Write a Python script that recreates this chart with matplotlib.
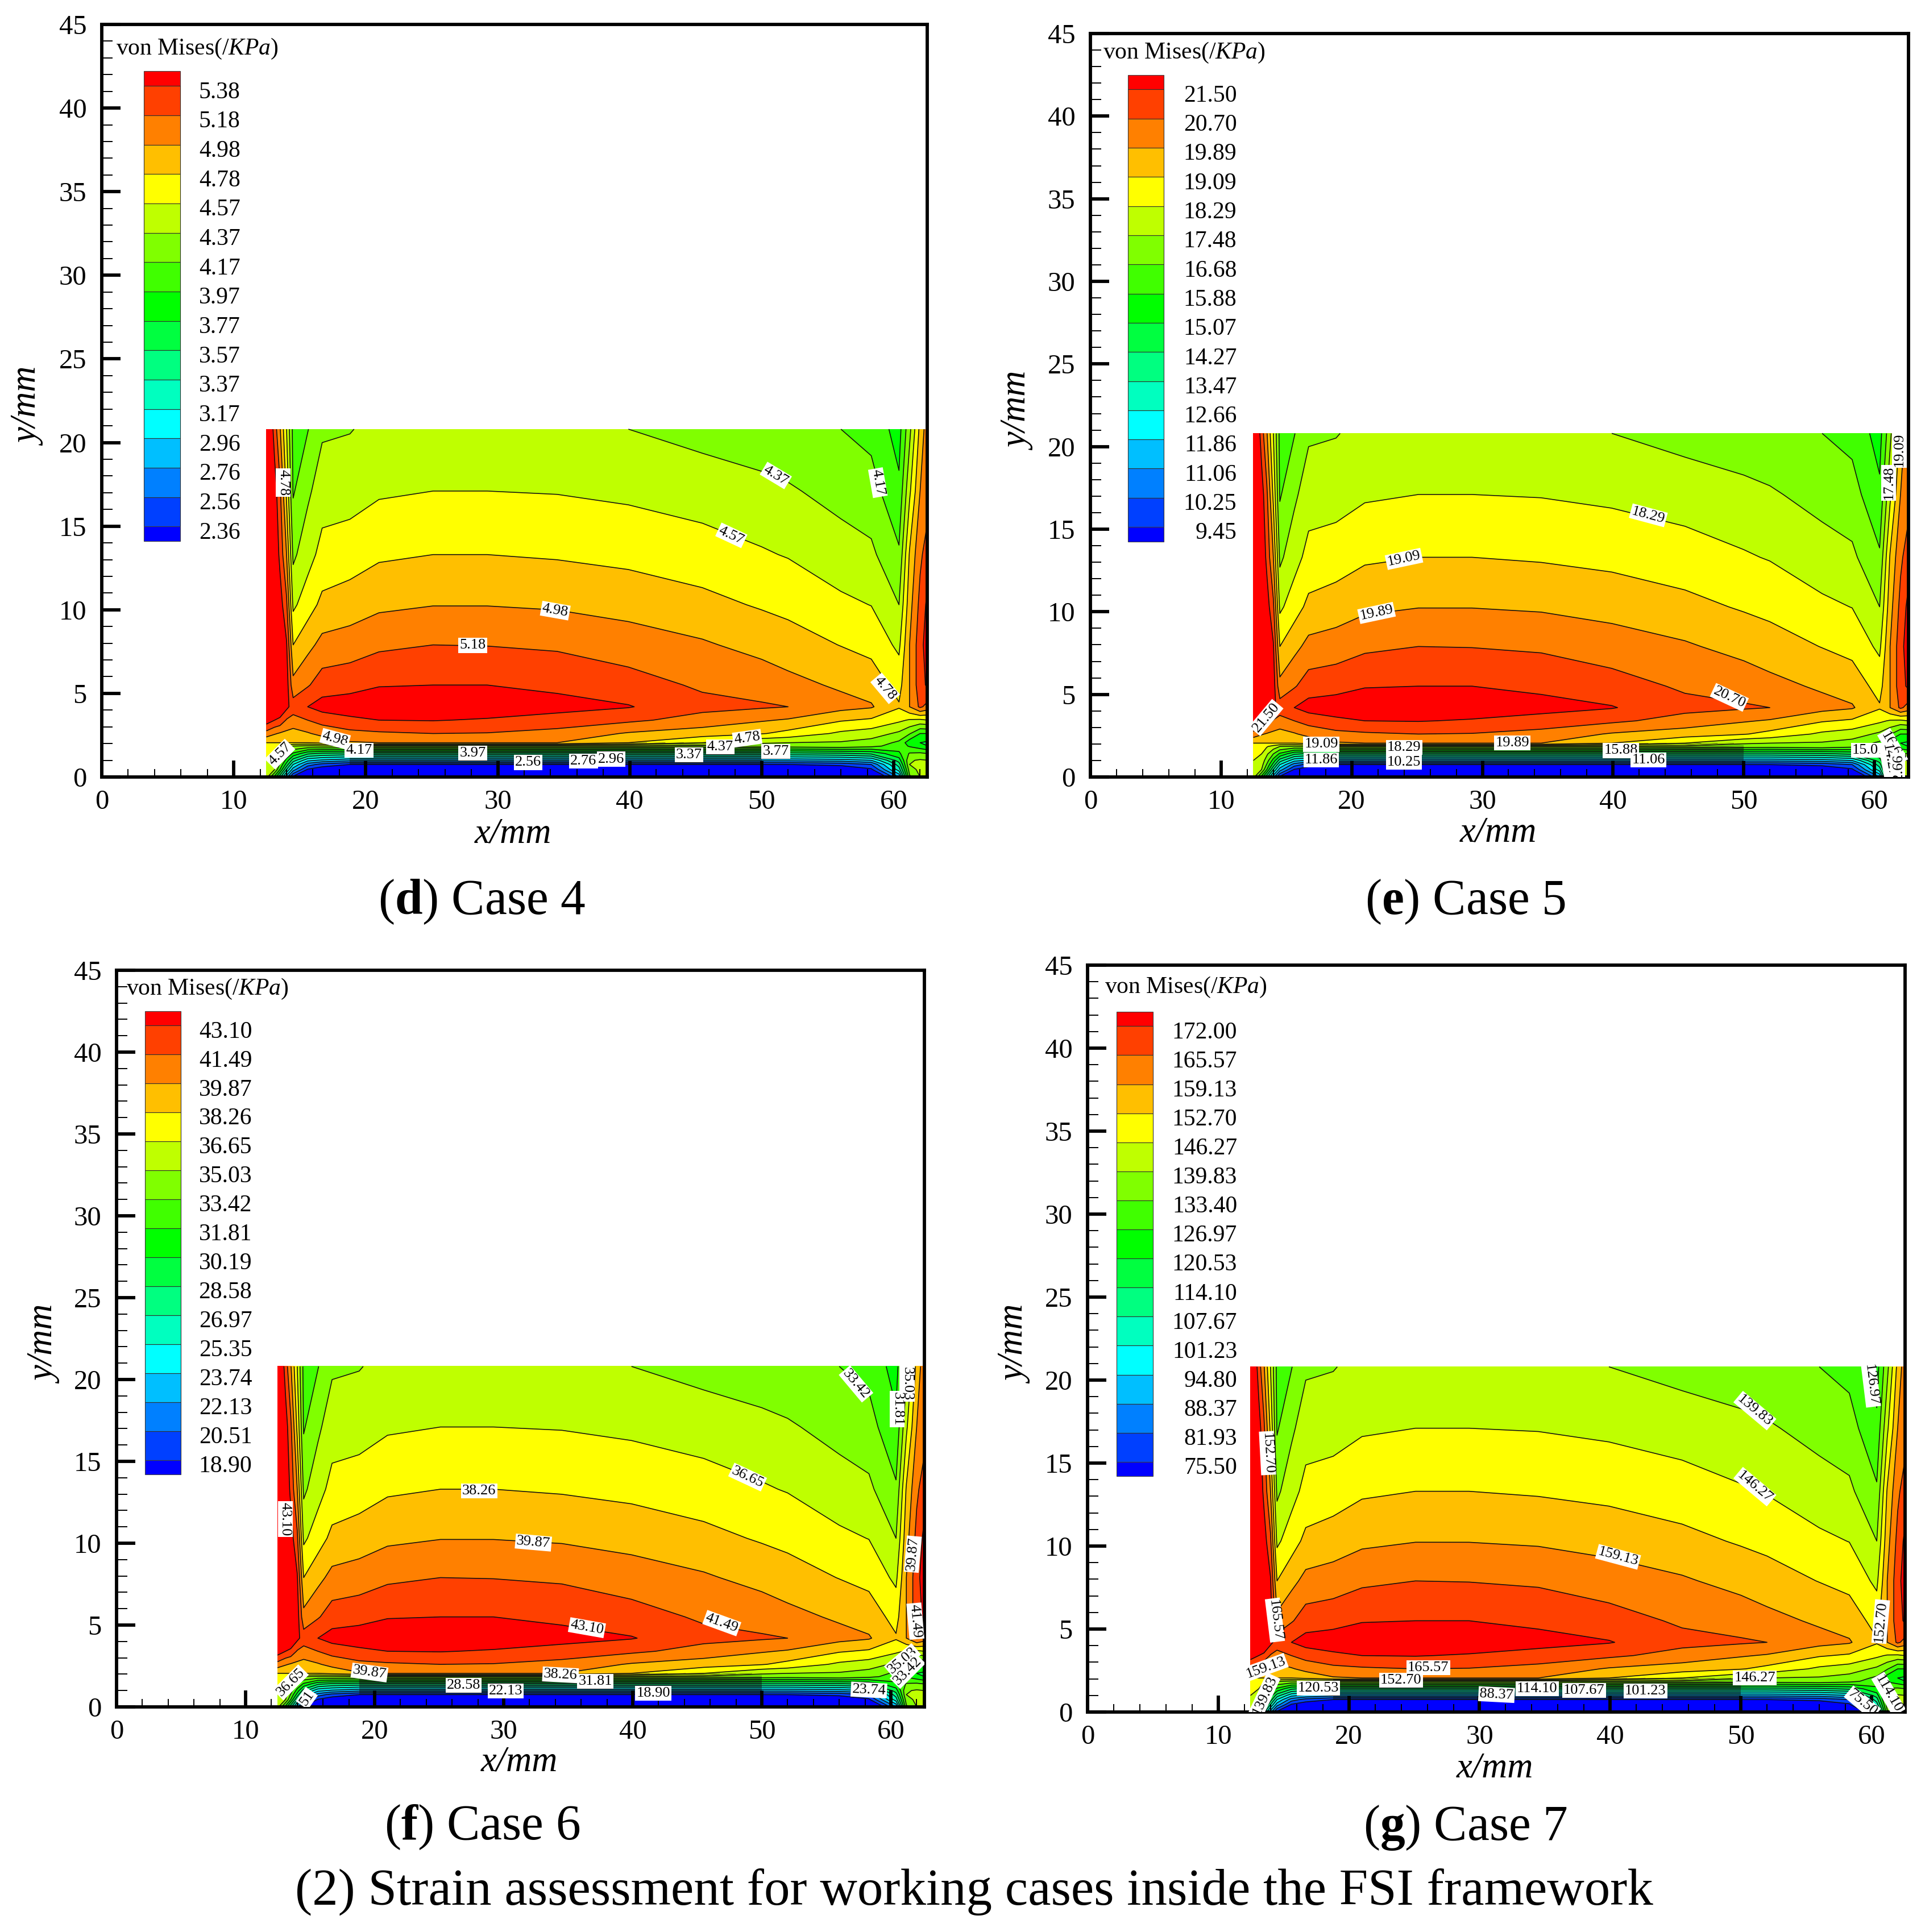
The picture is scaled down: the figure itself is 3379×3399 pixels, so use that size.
import numpy as np
from matplotlib import pyplot as plt
from matplotlib.patches import Rectangle
from matplotlib.ticker import MultipleLocator

plt.rcParams['font.family'] = ['Liberation Serif', 'DejaVu Serif']
plt.rcParams['mathtext.fontset'] = 'custom'
plt.rcParams['mathtext.rm'] = 'Liberation Serif'
plt.rcParams['mathtext.it'] = 'Liberation Serif:italic'
plt.rcParams['mathtext.bf'] = 'Liberation Serif:bold'

#--------------------------------
# DATA
#--------------------------------

# mesh nodes of the stress field, mm
x_nodes = [12.47, 13.1, 13.5, 14.0, 14.5, 15.6, 16.7, 18.8, 21, 25.1, 29.2, 34.5, 39.9, 45.5, 50, 52, 56, 58.3, 60.4, 61.2, 62, 62.6]
y_nodes = [0, 0.45, 0.75, 1, 1.4, 1.85, 2.05, 2.6, 3.4, 4.2, 5.5, 7.9, 10.3, 13.3, 17.1, 20.8]

# field, in units of contour level number (0 = lowest label, 15 = highest)
field = [
    [10.4, 7.6, 5.3, 2.4, -0.3, -1.5, -2, -2.8, -3, -3, -3, -3, -3, -3, -3, -3, -3, -2.5, 2, 8.8, 10, 10.2],
    [10.6, 10, 8, 5, 2.5, -0.1, -0.7, -1.5, -1.5, -1.5, -1.5, -1.5, -1.5, -1.5, -1.5, -1.5, -1, -0.2, 4.5, 9.5, 10.3, 10.3],
    [10.8, 10.4, 8.9, 6.6, 4, 1.5, 0.6, 0, 0, 0, 0, 0, 0, 0, 0, 0, 0.3, 1, 5.5, 10, 10.2, 10.2],
    [11, 10.6, 9.5, 7.6, 5.5, 3.3, 2.8, 2.3, 2.3, 2.3, 2.3, 2.3, 2.3, 2.3, 2.3, 2.3, 2.5, 3, 6.5, 9.9, 10.1, 10],
    [11.4, 11, 10.2, 9, 7.8, 6.2, 5.8, 5.6, 5.6, 5.6, 5.6, 5.6, 5.6, 5.6, 5.6, 5.6, 5.8, 6.2, 7.8, 9.1, 9.2, 9],
    [11.8, 11.5, 11.1, 10.6, 10, 9.8, 10, 10, 10, 10, 10, 10, 10, 9.8, 9.6, 9.5, 9.7, 9.3, 8.5, 7.9, 7.4, 7],
    [12, 12, 12, 12, 12, 12, 12.3, 12.9, 13, 13, 13, 13, 12, 11, 10.1, 10, 9.9, 9.6, 8.8, 7.4, 7, 6.8],
    [13.6, 13.1, 12.9, 12.75, 12.6, 12.9, 13.3, 13.7, 13.85, 14, 13.95, 13.65, 12.9, 12.5, 12.07, 11.7, 10.8, 10.5, 9.8, 9.1, 8, 8],
    [15.6, 15, 14.75, 13.9, 13.65, 14, 14.4, 14.8, 15, 15.05, 14.9, 14.6, 14.2, 13.6, 13.1, 12.9, 12.1, 11.85, 11.2, 10.9, 10.8, 11],
    [16.5, 16.5, 16, 15.3, 14.5, 15, 15.4, 15.5, 15.55, 15.75, 15.65, 15.35, 15.06, 14.3, 14.12, 14, 13.35, 13.1, 12.1, 13, 14.2, 13.6],
    [17, 16.7, 16.5, 15.5, 13.3, 13.9, 14.5, 14.67, 14.95, 15, 15, 14.78, 14.43, 13.85, 13.57, 13.3, 12.85, 12.55, 11.65, 13, 14.6, 15.2],
    [17, 17, 16, 15.1, 12, 12.7, 13.3, 13.46, 13.8, 14, 13.97, 13.85, 13.47, 13.12, 12.68, 12.45, 11.97, 11.7, 10.78, 13, 14.6, 15.6],
    [17, 16.5, 15.5, 14.2, 10.8, 11.55, 12.25, 12.5, 12.8, 12.97, 12.97, 12.87, 12.66, 12.29, 11.9, 11.73, 11.2, 10.98, 10, 12.6, 14.3, 15.3],
    [17, 15.9, 14.75, 13, 9.8, 10.6, 11.33, 11.5, 11.85, 12, 12, 11.9, 11.72, 11.44, 11.1, 10.94, 10.45, 10.2, 9.14, 12.1, 13.8, 14.5],
    [17, 15.5, 14.2, 11.8, 8.9, 9.8, 10.54, 10.6, 10.87, 11, 11, 10.95, 10.8, 10.55, 10.28, 10.12, 9.65, 9.4, 8.2, 10.8, 13, 13.6],
    [17, 14.5, 13.1, 11, 8.7, 8.95, 9.85, 9.95, 10.3, 10.55, 10.55, 10.4, 10, 9.65, 9.4, 9.28, 9, 8.7, 7.6, 9.7, 12.3, 13.7],
]

band_colors = ['#0000ff', '#0040ff', '#0080ff', '#00bfff', '#00ffff', '#00ffbf', '#00ff80', '#00ff40', '#00ff00',
               '#40ff00', '#80ff00', '#bfff00', '#ffff00', '#ffbf00', '#ff8000', '#ff4000', '#ff0000']

# legend values, top to bottom
levels_d = ['5.38', '5.18', '4.98', '4.78', '4.57', '4.37', '4.17', '3.97', '3.77', '3.57', '3.37', '3.17', '2.96', '2.76', '2.56', '2.36']
levels_e = ['21.50', '20.70', '19.89', '19.09', '18.29', '17.48', '16.68', '15.88', '15.07', '14.27', '13.47', '12.66', '11.86', '11.06', '10.25', '9.45']
levels_f = ['43.10', '41.49', '39.87', '38.26', '36.65', '35.03', '33.42', '31.81', '30.19', '28.58', '26.97', '25.35', '23.74', '22.13', '20.51', '18.90']
levels_g = ['172.00', '165.57', '159.13', '152.70', '146.27', '139.83', '133.40', '126.97', '120.53', '114.10', '107.67', '101.23', '94.80', '88.37', '81.93', '75.50']

# contour labels: text, x, y, rotation
labels_d = [('4.78', 13.75, 17.6, -90), ('4.37', 51.07, 18.03, -31), ('4.17', 58.8, 17.6, -80), ('4.57', 47.7, 14.45, -25),
            ('4.98', 34.36, 9.95, -10), ('5.18', 28.1, 7.87, 0), ('4.78', 59.36, 5.3, -50), ('4.98', 17.68, 2.28, -15),
            ('4.57', 13.5, 1.37, 45), ('4.17', 19.5, 1.59, 0), ('3.97', 28.1, 1.42, 0), ('2.56', 32.3, 0.87, 0),
            ('2.76', 36.5, 0.95, 0), ('2.96', 38.6, 1.07, 0), ('3.37', 44.5, 1.33, 0), ('4.37', 46.86, 1.8, 0),
            ('4.78', 48.9, 2.32, 8), ('3.77', 51.07, 1.54, 0)]
labels_e = [('21.50', 13.45, 3.6, 50), ('18.29', 42.7, 15.84, -15), ('19.09', 24, 13.2, 12), ('19.89', 21.9, 9.93, 12),
            ('20.70', 48.9, 4.82, -25), ('19.09', 17.67, 1.98, 0), ('18.29', 24, 1.8, 0), ('19.89', 32.3, 2.07, 0),
            ('15.88', 40.6, 1.6, 0), ('15.07', 59.6, 1.63, 0), ('11.86', 17.67, 1.02, 0), ('10.25', 24, 0.9, 0),
            ('11.06', 42.7, 1.02, 0), ('17.48', 61.1, 17.8, 90), ('19.09', 61.9, 19.8, 90), ('16.68', 61.4, 1.8, -60),
            ('14.27', 61.1, 1.0, -80), ('12.66', 61.8, 0.4, 90)]
labels_f = [('43.10', 13.08, 11.47, -90), ('33.42', 57.3, 19.73, -50), ('35.03', 61.26, 19.73, -90), ('31.81', 60.5, 18.2, -90),
            ('36.65', 48.9, 14.04, -25), ('38.26', 28.1, 13.2, 0), ('39.87', 32.3, 10.04, -5), ('39.87', 61.7, 9.33, 85),
            ('43.10', 36.45, 4.84, -10), ('41.49', 46.9, 5.12, -20), ('41.49', 61.9, 5.24, -85), ('39.87', 19.6, 2.1, -8),
            ('38.26', 34.4, 1.96, -3), ('31.81', 37.1, 1.56, 0), ('28.58', 26.9, 1.33, 0), ('22.13', 30.16, 0.98, 0),
            ('18.90', 41.6, 0.84, 0), ('23.74', 58.3, 1.03, -3), ('36.65', 13.5, 1.5, 45), ('35.03', 60.9, 2.84, 40),
            ('33.42', 61.3, 2.2, 45), ('51', 14.74, 0.53, 55)]
labels_g = [('152.70', 13.77, 15.6, -87), ('165.57', 14.34, 5.54, -83), ('139.83', 51.07, 18.16, -40), ('146.27', 51.07, 13.58, -40),
            ('159.13', 40.6, 9.35, -15), ('126.97', 59.95, 19.7, -83), ('152.70', 60.7, 5.45, 85), ('159.13', 13.63, 2.69, 20),
            ('165.57', 26.07, 2.66, 0), ('152.70', 23.98, 1.92, 0), ('146.27', 51.07, 2.05, 0), ('139.83', 13.54, 1.0, 65),
            ('120.53', 17.67, 1.43, 0), ('114.10', 34.4, 1.4, 0), ('107.67', 38, 1.31, 0), ('101.23', 42.7, 1.26, 0),
            ('88.37', 31.3, 1.05, -3), ('75.50', 59.3, 0.56, -40), ('114.10', 61.3, 1.08, -60)]

#--------------------------------
# PLOT
#--------------------------------

W, H = 3380, 3399
fig = plt.figure(figsize=(W/100, H/100), dpi=100)

# frame of each panel in pixels: x=0, x=60, right edge, y=0, top edge
# legend box in data units: left, right, bottom, top, text right edge; title x, title y
panels = [
    (levels_d, labels_d, (179, 1572, 1631, 1367, 43), (3.2, 5.96, 14.1, 42.2, 10.5), (1.07, 43.55)),
    (levels_e, labels_e, (1918, 3297, 3357, 1367, 59), (2.87, 5.61, 14.25, 42.5, 11.2), (0.96, 43.84)),
    (levels_f, labels_f, (205, 1567, 1626, 3003, 1707), (2.2, 4.98, 14.2, 42.5, 10.5), (0.75, 43.85)),
    (levels_g, labels_g, (1913, 3292, 3351, 3012, 1698), (2.2, 5.0, 14.2, 42.2, 11.45), (1.3, 43.66)),
]

xa = np.array(x_nodes)
ya = np.array(y_nodes)
za = np.array(field)

for levels, labels, frame, box, title in panels:
    x0, x60, xr, y0, yt = frame
    ax = fig.add_axes([x0/W, 1-y0/H, (xr-x0)/W, (y0-yt)/H])
    xmax = 60*(xr-x0)/(x60-x0)

    # filled bands and the lines between them
    edges = [-100] + list(range(16)) + [100]
    ax.contourf(xa, ya, za, levels=edges, colors=band_colors, antialiased=False, zorder=1)
    ax.contour(xa, ya, za, levels=list(range(16)), colors='#101010', linewidths=1.15, zorder=2)

    # the layer just over the blue strip is so tightly packed with lines that it goes dark
    ax.contour(xa[7:15], ya[:7], za[:7, 7:15], levels=np.arange(0, 12, 0.25), colors='#101010', linewidths=0.32, zorder=2)

    for txt, lx, ly, rot in labels:
        ax.text(lx, ly, txt, fontsize=19, rotation=rot, ha='center', va='center', zorder=3, clip_on=True,
                rotation_mode='anchor', bbox=dict(facecolor='white', edgecolor='none', pad=1.5))

    ax.set_xlim(0, xmax)
    ax.set_ylim(0, 45)
    ax.xaxis.set_major_locator(MultipleLocator(10))
    ax.xaxis.set_minor_locator(MultipleLocator(2))
    ax.yaxis.set_major_locator(MultipleLocator(5))
    ax.yaxis.set_minor_locator(MultipleLocator(1))
    ax.tick_params(which='major', direction='in', length=21, width=4.2, labelsize=35, pad=16, zorder=2.5)
    ax.tick_params(which='minor', direction='in', length=10, width=1.4, zorder=2.5)
    ax.tick_params(axis='y', which='major', length=24, pad=19)
    ax.tick_params(axis='y', which='minor', length=13.5)
    for s in ax.spines.values():
        s.set_linewidth(4.2)
    ax.set_axisbelow(False)

    ax.text(0.5*xmax - 0.1, -3.4, 'x/mm', fontsize=45, style='italic', ha='center', va='center')
    ax.text(-5.45, 22.1, 'y/mm', fontsize=45, style='italic', rotation=90, ha='center', va='center')

    # legend
    left, right, bottom, top, text_right = box
    step = (top-bottom)/16
    ys = [top - step/2 - i*step for i in range(16)]
    ax.add_patch(Rectangle((left, ys[0]), right-left, top-ys[0], facecolor=band_colors[16], edgecolor='#404040', lw=0.8, zorder=3))
    for i in range(15):
        ax.add_patch(Rectangle((left, ys[i+1]), right-left, step, facecolor=band_colors[15-i], edgecolor='#303030', lw=0.8, zorder=3))
    ax.add_patch(Rectangle((left, bottom), right-left, ys[15]-bottom, facecolor=band_colors[0], edgecolor='#404040', lw=0.8, zorder=3))
    for txt, yy in zip(levels, ys):
        ax.text(text_right, yy-0.38, txt, fontsize=30, ha='right', va='center')
    ax.text(title[0], title[1], r'von Mises$\mathit{(/KPa)}$', fontsize=30, ha='left', va='center')

# captions
for txt, cx, cy in [(r'($\mathbf{d}$) Case 4', 848, 1587), (r'($\mathbf{e}$) Case 5', 2578, 1587),
                    (r'($\mathbf{f}$) Case 6', 848, 3215), (r'($\mathbf{g}$) Case 7', 2578, 3215)]:
    fig.text(cx/W, 1-cy/H, txt, fontsize=63, ha='center', va='center')
fig.text(1713/W, 1-3328/H, '(2) Strain assessment for working cases inside the FSI framework', fontsize=65.3, ha='center', va='center')

fig.savefig('out.png', dpi=100, facecolor='white')
